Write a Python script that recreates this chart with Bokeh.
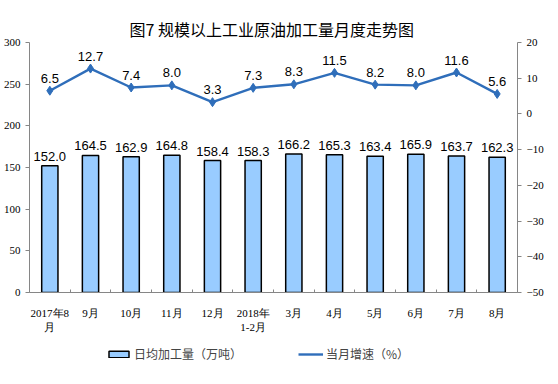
from bokeh.plotting import figure
from bokeh.layouts import column
from bokeh.models import (Range1d, LinearAxis, FixedTicker, ColumnDataSource, Legend, LegendItem, Title)
from bokeh.core.properties import value
from bokeh.embed import file_html
from bokeh.resources import INLINE

months = ["2017年8\n月", "9月", "10月", "11月", "12月", "2018年\n1-2月", "3月", "4月", "5月", "6月", "7月", "8月"]
daily_output = [152.0, 164.5, 162.9, 164.8, 158.4, 158.3, 166.2, 165.3, 163.4, 165.9, 163.7, 162.3]
growth = [6.5, 12.7, 7.4, 8.0, 3.3, 7.3, 8.3, 11.5, 8.2, 8.0, 11.6, 5.6]
legend_labels = ["日均加工量（万吨）", "当月增速（%）"]

bar_color = "#99CCFF"
line_color = "#2F6EBA"

x = list(range(len(months)))
src = ColumnDataSource(dict(
    x=x, bar=daily_output, g=growth,
    bar_lbl=[f"{v:.1f}" for v in daily_output],
    g_lbl=[f"{v:.1f}" for v in growth],
))

p = figure(frame_width=488, frame_height=250, output_backend="svg", toolbar_location=None,
           x_range=Range1d(-0.5, len(months) - 0.5), y_range=Range1d(0, 300),
           min_border_left=0, min_border_right=0, min_border_top=42, min_border_bottom=0)
p.title = Title(text="图7  规模以上工业原油加工量月度走势图", align="center",
                text_font="Noto Sans CJK SC", text_font_size="16px", text_font_style="normal",
                text_color="#000000", offset=10)
p.title.standoff = 4
p.outline_line_color = None
p.xgrid.visible = False
p.ygrid.visible = False

p.extra_y_ranges = {"y2": Range1d(-50, 20)}

axis_color = "#868686"

yl = p.yaxis[0]
yl.ticker = FixedTicker(ticks=list(range(0, 301, 50)))
yr = LinearAxis(y_range_name="y2", ticker=FixedTicker(ticks=list(range(-50, 21, 10))))
p.add_layout(yr, "right")
for ax in (yl, yr):
    ax.axis_line_color = axis_color
    ax.major_tick_line_color = axis_color
    ax.major_tick_out = 4
    ax.major_tick_in = 0
    ax.minor_tick_line_color = None
    ax.major_label_text_font = "Liberation Serif"
    ax.major_label_text_font_size = "11px"
    ax.major_label_text_color = "#000000"
    ax.major_label_standoff = 5

xa = p.xaxis[0]
xa.ticker = FixedTicker(ticks=x, minor_ticks=[i - 0.5 for i in range(len(months) + 1)])
xa.major_label_overrides = {i: m for i, m in enumerate(months)}
xa.axis_line_color = axis_color
xa.major_tick_line_color = None
xa.minor_tick_line_color = axis_color
xa.minor_tick_out = 0
xa.minor_tick_in = 3
xa.major_label_text_font = "Liberation Serif"
xa.major_label_text_font_size = "11px"
xa.major_label_text_color = "#000000"
xa.major_label_standoff = 8

p.vbar(x="x", top="bar", width=0.4, source=src, fill_color=bar_color,
       line_color="#000000", line_width=1.5)
p.line(x="x", y="g", source=src, y_range_name="y2", line_color=line_color, line_width=2.4)
p.scatter(x="x", y="g", source=src, y_range_name="y2", marker="diamond", size=9,
          fill_color=line_color, line_color=line_color)

p.text(x="x", y="bar", text="bar_lbl", source=src, text_align="center", text_baseline="bottom",
       y_offset=-5, text_font=value("Liberation Sans"), text_font_size="13px", text_color="#000000")
p.text(x="x", y="g", text="g_lbl", source=src, y_range_name="y2", text_align="center",
       text_baseline="bottom", y_offset=-8, text_font=value("Liberation Sans"),
       text_font_size="13px", text_color="#000000")

# legend strip (renderers hidden; only their legend swatches are shown)
lg = figure(width=542, height=34, output_backend="svg", toolbar_location=None,
            x_range=Range1d(0, 1), y_range=Range1d(0, 1),
            min_border_left=0, min_border_right=0, min_border_top=0, min_border_bottom=0)
lg.axis.visible = False
lg.xgrid.visible = False
lg.ygrid.visible = False
lg.outline_line_color = None
r_bar = lg.vbar(x="x", top="bar", width=0.4, source=src, fill_color=bar_color,
                line_color="#000000", line_width=1.5, visible=False)
r_line = lg.line(x="x", y="g", source=src, line_color=line_color, line_width=2.4, visible=False)

legend = Legend(items=[
    LegendItem(label=legend_labels[0], renderers=[r_bar]),
    LegendItem(label=legend_labels[1], renderers=[r_line]),
], orientation="horizontal", location=(77, 7), border_line_color=None,
    label_text_font="Noto Sans CJK SC", label_text_font_size="12px",
    glyph_width=25, glyph_height=8, spacing=56, padding=3, margin=0,
    label_standoff=3, background_fill_alpha=0, inactive_fill_alpha=0,
    click_policy="none")
lg.add_layout(legend, "center")

layout = column(p, lg, spacing=0)
open("out.html", "w").write(file_html(layout, INLINE))
